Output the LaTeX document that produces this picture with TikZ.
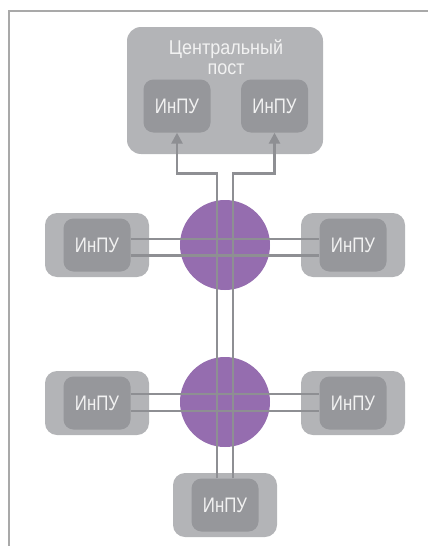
\documentclass[tikz,border=0pt]{standalone}
\usepackage{fontspec}
\setmainfont[FakeStretch=0.8]{Liberation Sans}
\newfontfamily\posttitlefont[FakeStretch=0.9]{Liberation Sans}
\usetikzlibrary{arrows.meta}
\definecolor{sitegray}{HTML}{B3B4B7}
\definecolor{unitgray}{HTML}{96979B}
\definecolor{linkgray}{HTML}{8E8F93}
\definecolor{hubviolet}{HTML}{956DAF}
\definecolor{framegray}{HTML}{A9A9A9}
\definecolor{labelwhite}{HTML}{F2F2F2}
\tikzstyle{site} = [fill=sitegray, rectangle, rounded corners=12pt,
    minimum width=104pt, minimum height=64pt, inner sep=0pt]
\tikzstyle{inpu} = [fill=unitgray, rectangle, rounded corners=10pt,
    minimum width=67pt, minimum height=53pt, inner sep=0pt,
    text=labelwhite, font=\fontsize{21}{21}\selectfont]
\tikzstyle{hub} = [fill=hubviolet, circle, minimum size=90pt, inner sep=0pt]
\tikzstyle{link} = [draw=linkgray, line width=2.6pt]
\tikzstyle{title} = [text=labelwhite, align=center, inner sep=0pt,
    font=\posttitlefont\fontsize{20}{20}\selectfont]

\begin{document}
\begin{tikzpicture}[x=1pt, y=-1pt, >={Triangle[length=11pt,width=11pt]}]
    \useasboundingbox (0,0) rectangle (428,546);
    % Frame on the top and left side only
    \draw [framegray, line width=1.2pt] (9,546) -- (9,11) -- (428,11);

    % We start by placing the central post with its two units
    \node [site, minimum width=196pt, minimum height=127pt,
        rounded corners=14pt] (post) at (225,90.5) {};
    \node [title] (posttitle) at (226,57) {Центральный\\пост};
    \node [inpu] (pl) at (177,106) {ИнПУ};
    \node [inpu] (pr) at (274.5,106) {ИнПУ};

    % Then the two hubs
    \node [hub] (hub1) at (225,245) {};
    \node [hub] (hub2) at (225,402) {};

    % The stations round the hubs
    \node [site] (w1) at (97,245) {};
    \node [inpu] (uw1) at (w1) {ИнПУ};
    \node [site] (e1) at (353,245) {};
    \node [inpu] (ue1) at (e1) {ИнПУ};
    \node [site] (w2) at (97,403) {};
    \node [inpu] (uw2) at (w2) {ИнПУ};
    \node [site] (e2) at (353,403) {};
    \node [inpu] (ue2) at (e2) {ИнПУ};
    \node [site] (s2) at (225,505) {};
    \node [inpu] (us2) at (s2) {ИнПУ};

    % Horizontal links through the hubs
    \draw [link] ([yshift=6pt]uw1.east) -- ([yshift=6pt]ue1.west);
    \draw [link] ([yshift=-10.5pt]uw1.east) -- ([yshift=-10.5pt]ue1.west);
    \draw [link] ([yshift=9pt]uw2.east) -- ([yshift=9pt]ue2.west);
    \draw [link] ([yshift=-8pt]uw2.east) -- ([yshift=-8pt]ue2.west);

    % Vertical links up to the central post
    \draw [link, ->] ([xshift=-8pt]us2.north) |- ([yshift=-41pt]pl.south)
        -- (pl.south);
    \draw [link, ->] ([xshift=8pt]us2.north) |- ([yshift=-41pt]pr.south)
        -- (pr.south);
\end{tikzpicture}
\end{document}
